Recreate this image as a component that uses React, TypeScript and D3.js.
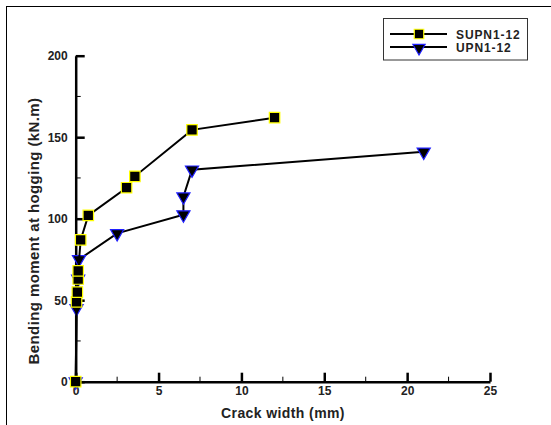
import React, { useEffect, useRef } from "react";
import * as d3 from "d3";

// SUPN1-12 : crack width (mm) vs bending moment (kN.m)
const supnCrack = [0, 0.05, 0.1, 0.15, 0.15, 0.3, 0.76, 3.07, 3.57, 7.02, 12.0];
const supnMoment = [0, 49, 55, 63, 68, 87, 102, 119, 126, 154.5, 162];

// UPN1-12
const upnCrack = [0, 0.05, 0.15, 0.2, 2.5, 6.5, 6.5, 7.02, 21.0];
const upnMoment = [0, 45, 63, 75, 91, 102.5, 113.5, 130, 141];

const xTicks = [0, 5, 10, 15, 20, 25];
const yTicks = [0, 50, 100, 150, 200];
const seriesNames = ["SUPN1-12", "UPN1-12"];

const W = 551;
const H = 425;
const FONT = "Arial, 'Liberation Sans', sans-serif";

export default function App() {
  const ref = useRef<SVGSVGElement>(null);

  useEffect(() => {
    const svg = d3.select(ref.current);
    svg.selectAll("*").remove();

    const x = d3.scaleLinear().domain([0, 25]).range([75.7, 490]);
    const y = d3.scaleLinear().domain([0, 200]).range([381.7, 55.7]);

    // outer frame (right / bottom edges fall outside the picture)
    svg
      .append("rect")
      .attr("x", 6.5)
      .attr("y", 6.5)
      .attr("width", 560)
      .attr("height", 440)
      .attr("fill", "none")
      .attr("stroke", "#000")
      .attr("stroke-width", 1);

    // minor ticks
    const minorX = d3.range(2.5, 25, 5);
    const minorY = d3.range(25, 200, 50);
    svg
      .selectAll("line.mx")
      .data(minorX)
      .enter()
      .append("line")
      .attr("x1", d => x(d))
      .attr("x2", d => x(d))
      .attr("y1", y(0))
      .attr("y2", y(0) - 5)
      .attr("stroke", "#000")
      .attr("stroke-width", 1);
    svg
      .selectAll("line.my")
      .data(minorY)
      .enter()
      .append("line")
      .attr("x1", x(0))
      .attr("x2", x(0) + 5)
      .attr("y1", d => y(d))
      .attr("y2", d => y(d))
      .attr("stroke", "#000")
      .attr("stroke-width", 1);

    const xAxis = d3
      .axisBottom(x)
      .tickValues(xTicks)
      .tickSizeInner(-9)
      .tickSizeOuter(0)
      .tickPadding(5);
    const yAxis = d3
      .axisLeft(y)
      .tickValues(yTicks)
      .tickSizeInner(-9)
      .tickSizeOuter(0)
      .tickPadding(8);

    const gx = svg
      .append("g")
      .attr("transform", "translate(0," + y(0) + ")")
      .call(xAxis);
    const gy = svg
      .append("g")
      .attr("transform", "translate(" + x(0) + ",0)")
      .call(yAxis);

    [gx, gy].forEach(g => {
      g.select(".domain").attr("stroke", "#000").attr("stroke-width", 2.5);
      g.selectAll(".tick line").attr("stroke", "#000").attr("stroke-width", 2.5);
      g.selectAll(".tick text")
        .attr("fill", "#222")
        .style("font-family", FONT)
        .style("font-size", "12px")
        .style("font-weight", "bold");
    });

    const drawSeries = (xs: number[], ys: number[], kind: string) => {
      const pts = xs.map((d, i) => [d, ys[i]] as [number, number]);
      svg
        .append("path")
        .datum(pts)
        .attr("fill", "none")
        .attr("stroke", "#000")
        .attr("stroke-width", 2)
        .attr("d", d3.line<[number, number]>().x(d => x(d[0])).y(d => y(d[1])));

      const sym =
        kind === "square"
          ? d3.symbol().type(d3.symbolSquare).size(110)
          : d3.symbol().type(d3.symbolTriangle).size(75);
      svg
        .selectAll("path." + kind)
        .data(pts)
        .enter()
        .append("path")
        .attr("class", kind)
        .attr("d", sym)
        .attr(
          "transform",
          d =>
            "translate(" + x(d[0]) + "," + y(d[1]) + ")" +
            (kind === "square" ? "" : " rotate(180)")
        )
        .attr("fill", "#000")
        .attr("stroke", kind === "square" ? "#ffff00" : "#2020ff")
        .attr("stroke-width", 1.2);
    };

    drawSeries(upnCrack, upnMoment, "tri");
    drawSeries(supnCrack, supnMoment, "square");

    // axis titles
    svg
      .append("text")
      .attr("x", 283)
      .attr("y", 418)
      .attr("text-anchor", "middle")
      .style("font-family", FONT)
      .style("font-size", "14px")
      .style("font-weight", "bold")
      .style("letter-spacing", "0.4px")
      .attr("fill", "#222")
      .text("Crack width (mm)");

    svg
      .append("text")
      .attr("transform", "translate(39,231) rotate(-90)")
      .attr("text-anchor", "middle")
      .style("font-family", FONT)
      .style("font-size", "15px")
      .style("font-weight", "bold")
      .style("letter-spacing", "0.4px")
      .attr("fill", "#222")
      .text("Bending moment at hogging (kN.m)");

    // legend
    const lg = svg.append("g");
    lg.append("rect")
      .attr("x", 383.5)
      .attr("y", 18.5)
      .attr("width", 144)
      .attr("height", 41.5)
      .attr("fill", "#fff")
      .attr("stroke", "#333")
      .attr("stroke-width", 1);

    const legendRows = [
      { name: seriesNames[0], ly: 34, kind: "square" },
      { name: seriesNames[1], ly: 47, kind: "tri" }
    ];
    legendRows.forEach(r => {
      lg.append("line")
        .attr("x1", 390)
        .attr("x2", 447)
        .attr("y1", r.ly)
        .attr("y2", r.ly)
        .attr("stroke", "#000")
        .attr("stroke-width", 2);
      lg.append("path")
        .attr(
          "d",
          r.kind === "square"
            ? d3.symbol().type(d3.symbolSquare).size(90)()
            : d3.symbol().type(d3.symbolTriangle).size(65)()
        )
        .attr(
          "transform",
          "translate(419," + (r.kind === "square" ? r.ly : r.ly + 1) + ")" +
            (r.kind === "square" ? "" : " rotate(180)")
        )
        .attr("fill", "#000")
        .attr("stroke", r.kind === "square" ? "#ffff00" : "#2020ff")
        .attr("stroke-width", 1.2);
      lg.append("text")
        .attr("x", 456)
        .attr("y", r.ly + 4.5)
        .style("font-family", FONT)
        .style("font-size", "12px")
        .style("font-weight", "bold")
        .style("letter-spacing", "0.9px")
        .attr("fill", "#222")
        .text(r.name);
    });
  }, []);

  return (
    <svg
      ref={ref}
      width={W}
      height={H}
      style={{ position: "absolute", left: 0, top: 0, background: "#fff" }}
    />
  );
}
